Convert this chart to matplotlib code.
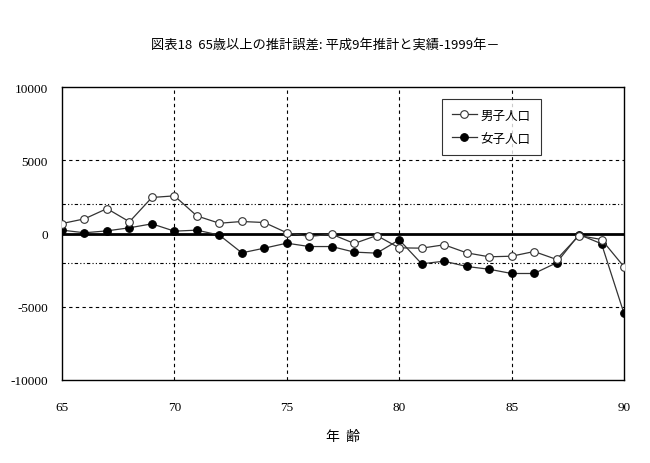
import matplotlib
matplotlib.use('Agg')
import matplotlib.pyplot as plt

plt.rcParams['font.family'] = ['Noto Sans CJK JP', 'DejaVu Sans']
plt.rcParams['axes.unicode_minus'] = False

# 年齢
ages = list(range(65, 91))
# 推計誤差（男子人口）
male = [680, 1000, 1700, 800, 2460, 2570, 1200, 700, 820, 750,
        50, -200, -50, -680, -140, -980, -1000, -770, -1320, -1590,
        -1550, -1230, -1770, -140, -410, -2270]
# 推計誤差（女子人口）
female = [230, 50, 180, 390, 660, 160, 230, -110, -1320, -1000,
          -660, -890, -890, -1270, -1340, -430, -2070, -1890, -2250, -2440,
          -2730, -2730, -2000, -70, -700, -5460]

fig = plt.figure(figsize=(6.5, 4.64), dpi=100)
ax = fig.add_axes([0.0954, 0.1789, 0.8646, 0.6314])

# 補助線
for v in [5000, -5000]:
    ax.axhline(v, color='black', lw=0.8, ls=(0, (3, 3)), zorder=1)
for v in [2000, -2000]:
    ax.axhline(v, color='black', lw=0.8, ls=(0, (3, 2, 1, 2, 1, 2)), zorder=1)
for v in [70, 75, 80, 85]:
    ax.axvline(v, color='black', lw=0.8, ls=(0, (3, 3)), zorder=1)
ax.axhline(0, color='black', lw=2, zorder=2)

ax.plot(ages, male, color='#333333', lw=0.9, marker='o', ms=5.5,
        mfc='white', mec='#333333', mew=0.8, label='男子人口', zorder=4)
ax.plot(ages, female, color='#333333', lw=0.9, marker='o', ms=5.5,
        mfc='black', mec='black', mew=0.8, label='女子人口', zorder=3)

ax.set_xlim(65, 90)
ax.set_ylim(-10000, 10000)
ax.set_xticks([65, 70, 75, 80, 85, 90])
ax.set_yticks([-10000, -5000, 0, 5000, 10000])
ax.tick_params(length=0, pad=10)
ax.tick_params(axis='x', pad=15)
for lab in ax.get_xticklabels() + ax.get_yticklabels():
    lab.set_family('Liberation Serif')
    lab.set_fontsize(9.5)
for s in ax.spines.values():
    s.set_linewidth(1)

ax.set_xlabel('年  齢', fontsize=10, labelpad=12)
fig.text(0.5, 0.903, '図表18  65歳以上の推計誤差: 平成9年推計と実績-1999年－',
         ha='center', va='center', fontsize=9.5)

leg = ax.legend(loc='upper left', bbox_to_anchor=(0.676, 0.96), fontsize=9,
                frameon=True, fancybox=False, edgecolor='black',
                handlelength=2.0, handletextpad=0.3, borderpad=0.8,
                labelspacing=0.8, borderaxespad=0)
leg.get_frame().set_linewidth(0.8)

fig.savefig('out.png', dpi=100)
